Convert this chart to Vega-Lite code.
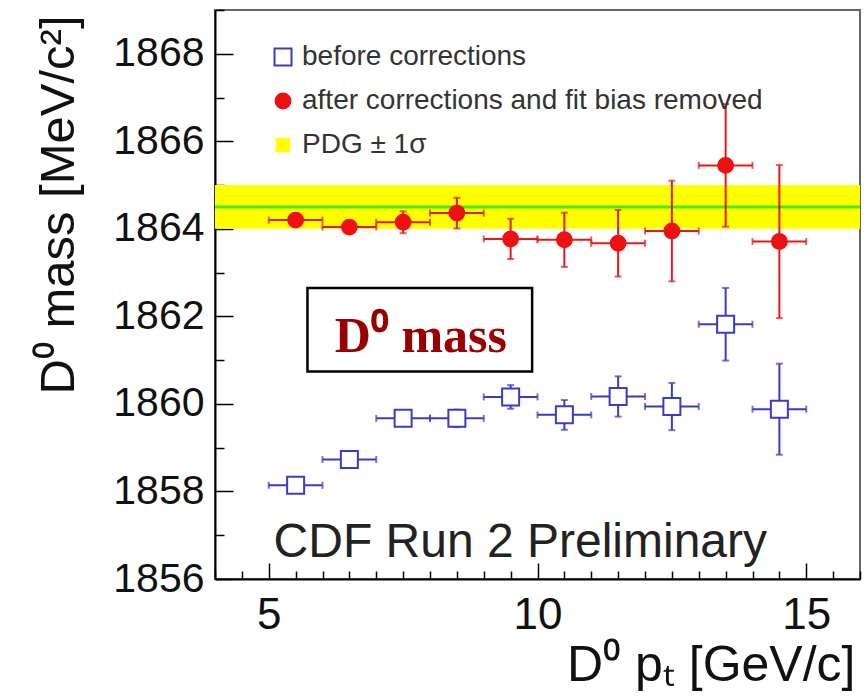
{
  "$schema": "https://vega.github.io/schema/vega-lite/v6.json",
  "autosize": {"type": "none"},
  "padding": {"left": 215, "top": 10, "right": 7, "bottom": 119},
  "width": 645,
  "height": 569,
  "background": "white",
  "datasets": {
    "before": [
      {"series": "before corrections", "pt": 5.5, "xerr": 0.5, "mass": 1858.14, "err": 0.03},
      {"series": "before corrections", "pt": 6.5, "xerr": 0.5, "mass": 1858.73, "err": 0.04},
      {"series": "before corrections", "pt": 7.5, "xerr": 0.5, "mass": 1859.67, "err": 0.05},
      {"series": "before corrections", "pt": 8.5, "xerr": 0.5, "mass": 1859.67, "err": 0.2},
      {"series": "before corrections", "pt": 9.5, "xerr": 0.5, "mass": 1860.16, "err": 0.27},
      {"series": "before corrections", "pt": 10.5, "xerr": 0.5, "mass": 1859.75, "err": 0.34},
      {"series": "before corrections", "pt": 11.5, "xerr": 0.5, "mass": 1860.17, "err": 0.46},
      {"series": "before corrections", "pt": 12.5, "xerr": 0.5, "mass": 1859.94, "err": 0.54},
      {"series": "before corrections", "pt": 13.5, "xerr": 0.5, "mass": 1861.82, "err": 0.83},
      {"series": "before corrections", "pt": 14.5, "xerr": 0.5, "mass": 1859.88, "err": 1.04}
    ],
    "after": [
      {"series": "after corrections and fit bias removed", "pt": 5.5, "xerr": 0.5, "mass": 1864.2, "err": 0.1},
      {"series": "after corrections and fit bias removed", "pt": 6.5, "xerr": 0.5, "mass": 1864.04, "err": 0.12},
      {"series": "after corrections and fit bias removed", "pt": 7.5, "xerr": 0.5, "mass": 1864.15, "err": 0.25},
      {"series": "after corrections and fit bias removed", "pt": 8.5, "xerr": 0.5, "mass": 1864.36, "err": 0.35},
      {"series": "after corrections and fit bias removed", "pt": 9.5, "xerr": 0.5, "mass": 1863.77, "err": 0.46},
      {"series": "after corrections and fit bias removed", "pt": 10.5, "xerr": 0.5, "mass": 1863.75, "err": 0.62},
      {"series": "after corrections and fit bias removed", "pt": 11.5, "xerr": 0.5, "mass": 1863.67, "err": 0.76},
      {"series": "after corrections and fit bias removed", "pt": 12.5, "xerr": 0.5, "mass": 1863.95, "err": 1.15},
      {"series": "after corrections and fit bias removed", "pt": 13.5, "xerr": 0.5, "mass": 1865.45, "err": 1.4},
      {"series": "after corrections and fit bias removed", "pt": 14.5, "xerr": 0.5, "mass": 1863.71, "err": 1.75}
    ],
    "pdg": [
      {"series": "PDG ± 1σ", "center": 1864.5, "lo": 1864.0, "hi": 1865.0}
    ]
  },
  "layer": [
    {
      "data": {"name": "pdg"},
      "mark": {"type": "rect"},
      "encoding": {
        "y": {"field": "lo", "type": "quantitative", "title": "D⁰ mass [MeV/c²]", "scale": {"domain": [1856, 1869], "nice": false, "zero": false}},
        "y2": {"field": "hi"},
        "fill": {"field": "series", "type": "nominal", "title": null,
          "scale": {"domain": ["before corrections", "after corrections and fit bias removed", "PDG ± 1σ"], "range": ["white", "#ee1111", "#ffff00"]}}
      }
    },
    {
      "data": {"name": "pdg"},
      "mark": {"type": "rule", "color": "#44ee00", "strokeWidth": 3},
      "encoding": {"y": {"field": "center", "type": "quantitative", "title": "D⁰ mass [MeV/c²]"}}
    },
    {
      "data": {"values": [{}]},
      "mark": {"type": "rect", "fill": "white", "stroke": "black", "strokeWidth": 2.5},
      "encoding": {
        "x": {"datum": 5.72, "type": "quantitative", "title": "D⁰ pₜ [GeV/c]", "scale": {"domain": [4, 16], "nice": false, "zero": false}},
        "x2": {"datum": 9.9},
        "y": {"datum": 1862.65, "type": "quantitative", "title": "D⁰ mass [MeV/c²]"},
        "y2": {"datum": 1860.74}
      }
    },
    {
      "data": {"values": [{}]},
      "mark": {"type": "text", "text": "D⁰ mass", "font": "Liberation Serif", "fontWeight": "bold", "fontSize": 50, "color": "#990000", "align": "center", "baseline": "alphabetic"},
      "encoding": {
        "x": {"datum": 7.83, "type": "quantitative", "title": "D⁰ pₜ [GeV/c]"},
        "y": {"datum": 1861.19, "type": "quantitative", "title": "D⁰ mass [MeV/c²]"}
      }
    },
    {
      "data": {"values": [{}]},
      "mark": {"type": "text", "text": "CDF Run 2 Preliminary", "font": "Liberation Sans", "fontSize": 48, "color": "#222222", "align": "left", "baseline": "alphabetic"},
      "encoding": {
        "x": {"datum": 5.09, "type": "quantitative", "title": "D⁰ pₜ [GeV/c]"},
        "y": {"datum": 1856.5, "type": "quantitative", "title": "D⁰ mass [MeV/c²]"}
      }
    },
    {
      "data": {"name": "before"},
      "mark": {"type": "errorbar", "color": "#3b3bc4", "thickness": 2, "ticks": {"size": 7, "thickness": 2, "color": "#3b3bc4"}},
      "encoding": {
        "x": {"field": "pt", "type": "quantitative", "title": "D⁰ pₜ [GeV/c]"},
        "y": {"field": "mass", "type": "quantitative", "title": "D⁰ mass [MeV/c²]"},
        "yError": {"field": "err"}
      }
    },
    {
      "data": {"name": "before"},
      "mark": {"type": "errorbar", "color": "#3b3bc4", "thickness": 2, "ticks": {"size": 7, "thickness": 2, "color": "#3b3bc4"}},
      "encoding": {
        "y": {"field": "mass", "type": "quantitative", "title": "D⁰ mass [MeV/c²]"},
        "x": {"field": "pt", "type": "quantitative", "title": "D⁰ pₜ [GeV/c]"},
        "xError": {"field": "xerr"}
      }
    },
    {
      "data": {"name": "after"},
      "mark": {"type": "errorbar", "color": "#e81818", "thickness": 2, "ticks": {"size": 7, "thickness": 2, "color": "#e81818"}},
      "encoding": {
        "x": {"field": "pt", "type": "quantitative", "title": "D⁰ pₜ [GeV/c]"},
        "y": {"field": "mass", "type": "quantitative", "title": "D⁰ mass [MeV/c²]"},
        "yError": {"field": "err"}
      }
    },
    {
      "data": {"name": "after"},
      "mark": {"type": "errorbar", "color": "#e81818", "thickness": 2, "ticks": {"size": 7, "thickness": 2, "color": "#e81818"}},
      "encoding": {
        "y": {"field": "mass", "type": "quantitative", "title": "D⁰ mass [MeV/c²]"},
        "x": {"field": "pt", "type": "quantitative", "title": "D⁰ pₜ [GeV/c]"},
        "xError": {"field": "xerr"}
      }
    },
    {
      "data": {"name": "before"},
      "mark": {"type": "point", "filled": true, "strokeWidth": 2, "opacity": 1},
      "encoding": {
        "x": {"field": "pt", "type": "quantitative", "title": "D⁰ pₜ [GeV/c]"},
        "y": {"field": "mass", "type": "quantitative", "title": "D⁰ mass [MeV/c²]"},
        "fill": {"field": "series", "type": "nominal", "title": null},
        "stroke": {"field": "series", "type": "nominal", "title": null,
          "scale": {"domain": ["before corrections", "after corrections and fit bias removed", "PDG ± 1σ"], "range": ["#3b3bc4", "#ee1111", "#ffff00"]}},
        "shape": {"field": "series", "type": "nominal", "title": null,
          "scale": {"domain": ["before corrections", "after corrections and fit bias removed", "PDG ± 1σ"], "range": ["square", "circle", "square"]}},
        "size": {"field": "series", "type": "nominal", "title": null,
          "scale": {"domain": ["before corrections", "after corrections and fit bias removed", "PDG ± 1σ"], "range": [289, 154, 625]}}
      }
    },
    {
      "data": {"name": "after"},
      "mark": {"type": "point", "filled": true, "strokeWidth": 2, "opacity": 1},
      "encoding": {
        "x": {"field": "pt", "type": "quantitative", "title": "D⁰ pₜ [GeV/c]"},
        "y": {"field": "mass", "type": "quantitative", "title": "D⁰ mass [MeV/c²]"},
        "fill": {"field": "series", "type": "nominal", "title": null},
        "stroke": {"field": "series", "type": "nominal", "title": null},
        "shape": {"field": "series", "type": "nominal", "title": null},
        "size": {"field": "series", "type": "nominal", "title": null}
      }
    }
  ],
  "config": {
    "view": {"stroke": "#666666", "strokeWidth": 2},
    "font": "Liberation Sans",
    "legend": {
      "orient": "none",
      "legendX": 54,
      "legendY": 33,
      "labelFont": "Liberation Sans",
      "labelFontSize": 28,
      "labelColor": "#333333",
      "labelLimit": 0,
      "rowPadding": 16,
      "labelOffset": 5,
      "symbolStrokeWidth": 2
    },
    "axisX": {
      "values": [4, 5, 6, 7, 8, 9, 10, 11, 12, 13, 14, 15, 16],
      "labelExpr": "datum.value % 5 === 0 ? format(datum.value, 'd') : ''",
      "tickSize": {"condition": {"test": "datum.value % 5 === 0", "value": -16}, "value": -8},
      "tickColor": "black",
      "tickWidth": 1.5,
      "domainColor": "black",
      "domainWidth": 2,
      "grid": false,
      "labelFont": "Liberation Sans",
      "labelFontSize": 44,
      "labelColor": "#111111",
      "labelPadding": 30,
      "labelFlush": false,
      "labelOverlap": false,
      "titleFont": "Liberation Sans",
      "titleFontSize": 50,
      "titleFontWeight": "normal",
      "titleColor": "#111111",
      "titleAnchor": "end",
      "titleAlign": "right",
      "titleBaseline": "alphabetic",
      "titleX": 640,
      "titleY": 101
    },
    "axisY": {
      "values": [1856, 1856.5, 1857, 1857.5, 1858, 1858.5, 1859, 1859.5, 1860, 1860.5, 1861, 1861.5, 1862, 1862.5, 1863, 1863.5, 1864, 1864.5, 1865, 1865.5, 1866, 1866.5, 1867, 1867.5, 1868, 1868.5, 1869],
      "labelExpr": "datum.value % 2 === 0 ? format(datum.value, 'd') : ''",
      "tickSize": {"condition": {"test": "datum.value % 2 === 0", "value": -18}, "value": -9},
      "tickColor": "black",
      "tickWidth": 1.5,
      "domainColor": "black",
      "domainWidth": 2,
      "grid": false,
      "labelFont": "Liberation Sans",
      "labelFontSize": 41,
      "labelColor": "#111111",
      "labelPadding": 29,
      "labelOverlap": false,
      "titleFont": "Liberation Sans",
      "titleFontSize": 49,
      "titleFontWeight": "normal",
      "titleColor": "#111111",
      "titleAnchor": "end",
      "titleAlign": "right",
      "titleBaseline": "alphabetic",
      "titleAngle": -90,
      "titleX": -142,
      "titleY": 5
    }
  }
}
